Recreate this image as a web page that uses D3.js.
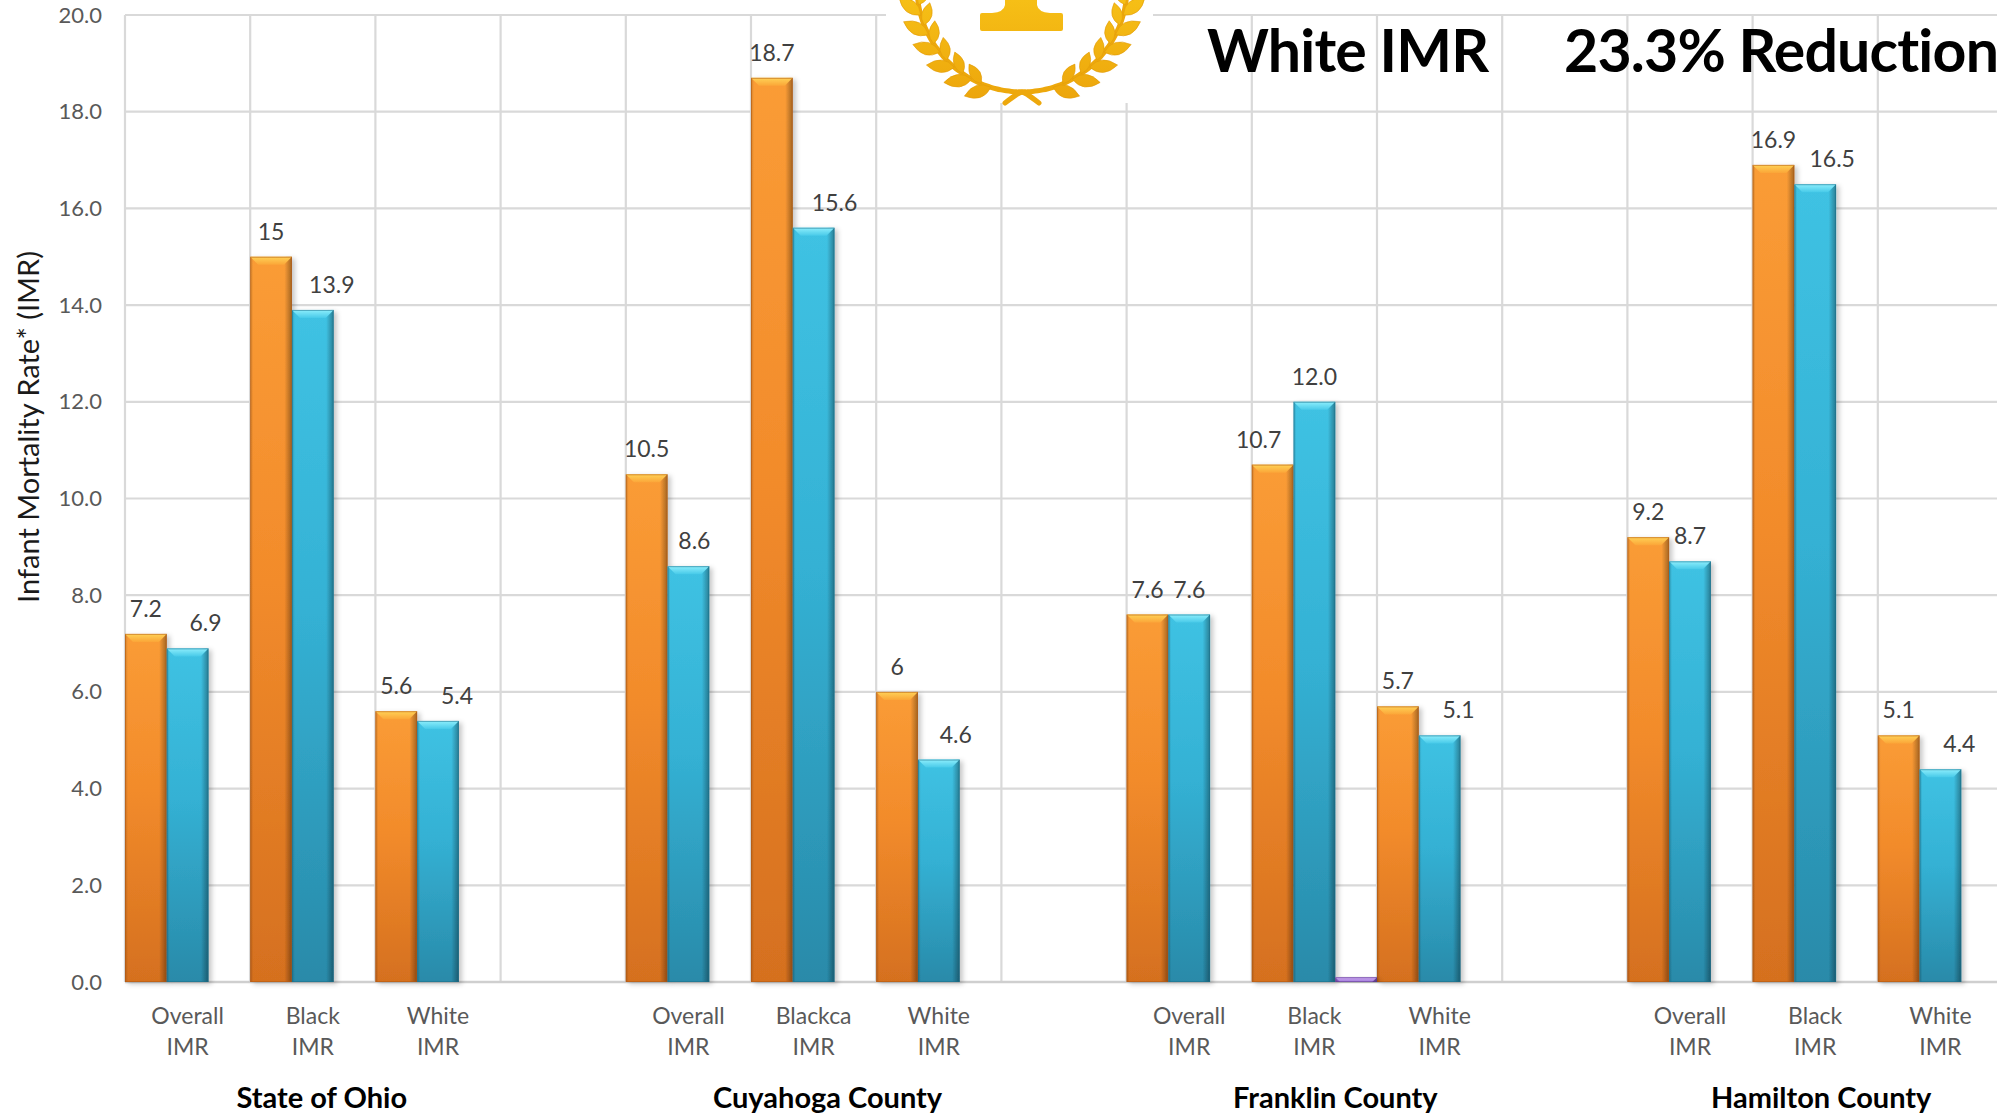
<!DOCTYPE html>
<html>
<head>
<meta charset="utf-8">
<script src="https://cdn.jsdelivr.net/npm/d3@7"></script>
<style>
  html, body { margin: 0; padding: 0; background: #fff; overflow: hidden; }
  svg { display: block; }
</style>
</head>
<body>
<svg id="chart" width="1997" height="1114"></svg>
<script>
// ---- data ----------------------------------------------------------------
const groups = ["State of Ohio", "Cuyahoga County", "Franklin County", "Hamilton County"];

// one slot per category; the empty slots separate the four areas
const categoryLabels = [
  "Overall IMR", "Black IMR", "White IMR", "",
  "Overall IMR", "Blackca IMR", "White IMR", "",
  "Overall IMR", "Black IMR", "White IMR", "",
  "Overall IMR", "Black IMR", "White IMR"
];

// rates as printed above the bars ("" = no bar in that slot)
const seriesOrange = ["7.2", "15", "5.6", "", "10.5", "18.7", "6", "", "7.6", "10.7", "5.7", "", "9.2", "16.9", "5.1"];
const seriesBlue   = ["6.9", "13.9", "5.4", "", "8.6", "15.6", "4.6", "", "7.6", "12.0", "5.1", "", "8.7", "16.5", "4.4"];
const seriesPurple = ["", "", "", "", "", "", "", "", "", "0.1", "", "", "", "", ""];

const yTicks = [0, 2, 4, 6, 8, 10, 12, 14, 16, 18, 20];
const axisTitle = "Infant Mortality Rate* (IMR)";
const headline = ["White IMR", "23.3% Reduction"];

// ---- layout --------------------------------------------------------------
const W = 1997, H = 1114;
const plotLeft = 125, slotW = 125.2, plotTop = 15, plotBottom = 982;
const FONT = "Lato, 'Open Sans', 'Noto Sans', sans-serif";

const svg = d3.select("#chart").attr("viewBox", `0 0 ${W} ${H}`);
svg.append("rect").attr("width", W).attr("height", H).attr("fill", "#fff");

const x = d3.scaleBand()
  .domain(d3.range(categoryLabels.length))
  .range([plotLeft, plotLeft + slotW * categoryLabels.length])
  .paddingInner(0).paddingOuter(0);

const series = [
  { key: "orange", values: seriesOrange, labelled: true },
  { key: "blue",   values: seriesBlue,   labelled: true },
  { key: "purple", values: seriesPurple, labelled: false }
];

const xs = d3.scaleBand().domain(series.map(s => s.key)).range([0, x.bandwidth()]).padding(0);
const y = d3.scaleLinear().domain([0, 20]).range([plotBottom, plotTop]);

// ---- gradients / filters -------------------------------------------------
const defs = svg.append("defs");
const palettes = {
  orange: { body: ["#FA9C36", "#F28B2B", "#D5701F"], cap: ["#FFD257", "#FBA638"], line: "#B35A14" },
  blue:   { body: ["#3FC2E3", "#34B1D4", "#298AA9"], cap: ["#8DEEFC", "#48CAE9"], line: "#1D6F8A" },
  purple: { body: ["#A77BDA", "#9366CB", "#7A4FB5"], cap: ["#CDA9F3", "#A27ADA"], line: "#5D3A8C" }
};
Object.entries(palettes).forEach(([k, p]) => {
  const gb = defs.append("linearGradient").attr("id", `body-${k}`).attr("x1", 0).attr("y1", 0).attr("x2", 0).attr("y2", 1);
  gb.append("stop").attr("offset", "0%").attr("stop-color", p.body[0]);
  gb.append("stop").attr("offset", "45%").attr("stop-color", p.body[1]);
  gb.append("stop").attr("offset", "100%").attr("stop-color", p.body[2]);
  const gc = defs.append("linearGradient").attr("id", `cap-${k}`).attr("x1", 0).attr("y1", 0).attr("x2", 0).attr("y2", 1);
  gc.append("stop").attr("offset", "0%").attr("stop-color", p.cap[0]);
  gc.append("stop").attr("offset", "100%").attr("stop-color", p.cap[1]);
});
const edge = defs.append("linearGradient").attr("id", "edge").attr("x1", 0).attr("y1", 0).attr("x2", 1).attr("y2", 0);
[["0%", 0.18], ["7%", 0], ["82%", 0], ["100%", 0.35]].forEach(([o, a]) =>
  edge.append("stop").attr("offset", o).attr("stop-color", "#000").attr("stop-opacity", a));

const shadow = defs.append("filter").attr("id", "shadow").attr("x", "-20%").attr("y", "-5%").attr("width", "160%").attr("height", "115%");
shadow.append("feDropShadow").attr("dx", 3).attr("dy", 2).attr("stdDeviation", 2.5)
  .attr("flood-color", "#000").attr("flood-opacity", 0.22);

const gold = defs.append("linearGradient").attr("id", "gold").attr("gradientUnits", "userSpaceOnUse")
  .attr("x1", 0).attr("y1", 0).attr("x2", 0).attr("y2", 105);
gold.append("stop").attr("offset", "0%").attr("stop-color", "#F6BF16");
gold.append("stop").attr("offset", "100%").attr("stop-color", "#ECA40B");

// ---- grid ----------------------------------------------------------------
const grid = svg.append("g");
const xEnd = x.range()[1];
grid.selectAll("line.h").data(yTicks).join("line")
  .attr("x1", plotLeft).attr("x2", xEnd)
  .attr("y1", d => y(d)).attr("y2", d => y(d))
  .attr("stroke", "#d9d9d9").attr("stroke-width", 2.2);
grid.selectAll("line.v").data(d3.range(categoryLabels.length + 1)).join("line")
  .attr("x1", i => plotLeft + i * x.step()).attr("x2", i => plotLeft + i * x.step())
  .attr("y1", plotTop).attr("y2", plotBottom)
  .attr("stroke", "#d9d9d9").attr("stroke-width", 2.2);
grid.append("line").attr("x1", plotLeft).attr("x2", xEnd).attr("y1", y(0)).attr("y2", y(0))
  .attr("stroke", "#cfcfcf").attr("stroke-width", 2.6);

// ---- laurel wreath emblem ------------------------------------------------
const wreath = svg.append("g");
wreath.append("rect").attr("x", 886).attr("y", 0).attr("width", 267).attr("height", 103).attr("fill", "#fff");
const wc = { x: 1022, y: -13 }, R = 105;
const pt = (s, t) => [wc.x + s * R * Math.sin(t), wc.y + R * Math.cos(t)];

function leaf(s, t, side, L) {
  const [px, py] = pt(s, t);
  const tx = s * Math.cos(t), ty = -Math.sin(t);
  const nx = s * Math.sin(t) * side, ny = Math.cos(t) * side;
  const a = 0.62;
  const ux = tx * Math.cos(a) + nx * Math.sin(a), uy = ty * Math.cos(a) + ny * Math.sin(a);
  const vx = -uy, vy = ux;
  const w = L * 0.45;
  const tip = [px + ux * L, py + uy * L];
  const m = [px + ux * L * 0.45, py + uy * L * 0.45];
  wreath.append("path")
    .attr("d", `M${px},${py}Q${m[0] + vx * w},${m[1] + vy * w} ${tip[0]},${tip[1]}Q${m[0] - vx * w},${m[1] - vy * w} ${px},${py}Z`)
    .attr("fill", "url(#gold)").attr("stroke", "#E09A08").attr("stroke-width", 0.6);
}

[-1, 1].forEach(s => {
  const arc = d3.range(0, 1.86, 0.05).map(t => pt(s, t));
  const tail = [[wc.x - s * 17, wc.y + R + 11], [wc.x - s * 6, wc.y + R + 3]];
  wreath.append("path")
    .attr("d", d3.line().curve(d3.curveCatmullRom)([...tail, ...arc]))
    .attr("fill", "none").attr("stroke", "#EDA80C").attr("stroke-width", 5).attr("stroke-linecap", "round");
  for (let i = 0; i < 8; i++) {
    const t = 0.3 + i * 0.2;
    leaf(s, t, 1, 28);
    leaf(s, t + 0.1, -1, 23);
  }
});
// foot of the "1"
wreath.append("path")
  .attr("d", "M1005,0H1037V5Q1038,12 1050,13H1061Q1063,13 1063,15V29Q1063,31 1061,31H982Q980,31 980,29V15Q980,13 982,13H992Q1004,12 1005,5Z")
  .attr("fill", "url(#gold)");

// ---- bars ----------------------------------------------------------------
const barsG = svg.append("g");
function bevelBar(x0, w, v, key) {
  const y0 = y(v), y1 = y(0), h = y1 - y0;
  const b = Math.min(8, h);
  const g = barsG.append("g").attr("filter", "url(#shadow)");
  g.append("rect").attr("x", x0).attr("y", y0).attr("width", w).attr("height", h).attr("fill", `url(#body-${key})`);
  g.append("rect").attr("x", x0).attr("y", y0).attr("width", w).attr("height", h).attr("fill", "url(#edge)");
  g.append("path").attr("d", `M${x0},${y0}H${x0 + w}L${x0 + w - b},${y0 + b}H${x0 + b}Z`).attr("fill", `url(#cap-${key})`);
  g.append("rect").attr("x", x0 + 0.5).attr("y", y0 + 0.5).attr("width", w - 1).attr("height", Math.max(0, h - 1))
    .attr("fill", "none").attr("stroke", palettes[key].line).attr("stroke-opacity", 0.55).attr("stroke-width", 1);
}
series.forEach(s => {
  s.values.forEach((str, i) => {
    if (str === "") return;
    bevelBar(x(i) + xs(s.key), xs.bandwidth(), +str, s.key);
  });
});

// ---- value labels ----------------------------------------------------------
// horizontal nudges keep neighbouring labels apart
const nudge = { "blue-0": 18, "blue-1": 19, "blue-2": 19, "blue-4": 6, "blue-5": 21, "blue-6": 17,
                "blue-10": 19, "blue-13": 17, "blue-14": 19, "orange-9": -14 };
const labelsG = svg.append("g").attr("font-family", FONT).attr("font-size", 23).attr("fill", "#404040").attr("text-anchor", "middle");
series.filter(s => s.labelled).forEach(s => {
  s.values.forEach((str, i) => {
    if (str === "") return;
    labelsG.append("text")
      .attr("x", x(i) + xs(s.key) + xs.bandwidth() / 2 + (nudge[`${s.key}-${i}`] || 0))
      .attr("y", y(+str) - 17)
      .text(str);
  });
});

// ---- axes ----------------------------------------------------------------
const gy = svg.append("g").attr("transform", `translate(${plotLeft},0)`)
  .call(d3.axisLeft(y).tickValues(yTicks).tickSize(0).tickPadding(23).tickFormat(d3.format(".1f")));
gy.select(".domain").remove();
gy.selectAll(".tick text").attr("font-family", FONT).attr("font-size", 22).attr("fill", "#595959");

const gx = svg.append("g").attr("transform", `translate(0,${y(0)})`)
  .call(d3.axisBottom(x).tickSize(0).tickFormat(i => categoryLabels[i]));
gx.select(".domain").remove();
gx.selectAll(".tick text").each(function (i) {
  const t = d3.select(this).attr("dy", null).attr("y", null).text(null)
    .attr("font-family", FONT).attr("font-size", 23).attr("fill", "#595959");
  categoryLabels[i].split(" ").filter(p => p).forEach((p, k) =>
    t.append("tspan").attr("x", 0).attr("y", 42 + k * 31).text(p));
});

// area names under each cluster
const groupNudge = [9, 14, 21, 6];
svg.append("g").selectAll("text").data(groups).join("text")
  .attr("x", (d, gi) => x(gi * 4 + 1) + x.bandwidth() / 2 + groupNudge[gi])
  .attr("y", 1108)
  .attr("text-anchor", "middle")
  .attr("font-family", FONT).attr("font-weight", 700).attr("font-size", 29).attr("fill", "#000")
  .text(d => d);

// y-axis title
svg.append("text")
  .attr("transform", "translate(39,427) rotate(-90)")
  .attr("text-anchor", "middle")
  .attr("font-family", FONT).attr("font-size", 29).attr("fill", "#1a1a1a")
  .text(axisTitle);

// headline
svg.append("g").attr("font-family", FONT).attr("font-weight", 700).attr("font-size", 59)
  .attr("letter-spacing", -0.8).attr("fill", "#000")
  .selectAll("text").data(headline).join("text")
  .attr("x", (d, i) => [1207, 1564][i]).attr("y", 72)
  .text(d => d);
</script>
</body>
</html>
